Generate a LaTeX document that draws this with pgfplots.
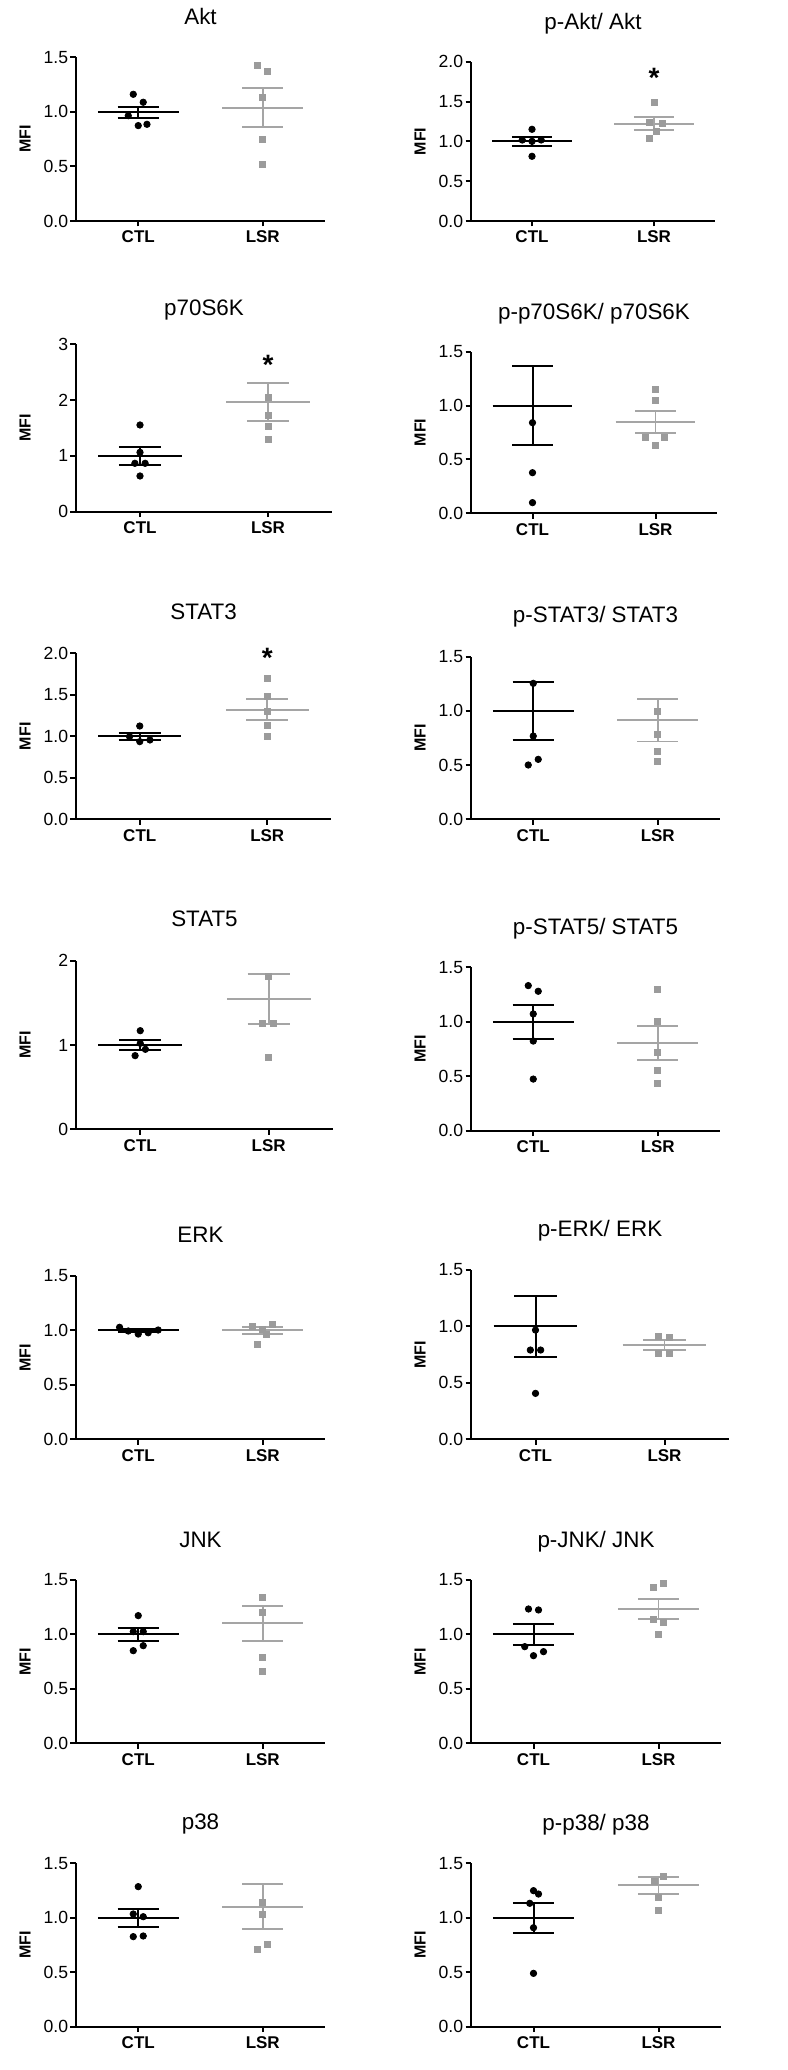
\documentclass[border=0pt]{standalone}
\usepackage{fontspec}
\setmainfont{Liberation Sans}
\usepackage{pgfplots}
\pgfplotsset{compat=1.18}
\definecolor{lsrline}{RGB}{165,165,165}
\definecolor{lsrpt}{RGB}{155,155,155}

\newcommand{\ctlsum}[3]{% mean, lo, hi
  \addplot[black, line width=1pt] coordinates {(-0.325,#1) (0.325,#1)};
  \addplot[black, line width=1pt] coordinates {(-0.165,#3) (0.165,#3)};
  \addplot[black, line width=1pt] coordinates {(-0.165,#2) (0.165,#2)};
  \addplot[black, line width=1pt] coordinates {(0,#2) (0,#3)};
}
\newcommand{\lsrsum}[3]{% mean, lo, hi
  \addplot[lsrline, line width=0.9pt] coordinates {(0.675,#1) (1.325,#1)};
  \addplot[lsrline, line width=0.9pt] coordinates {(0.835,#3) (1.165,#3)};
  \addplot[lsrline, line width=0.9pt] coordinates {(0.835,#2) (1.165,#2)};
  \addplot[lsrline, line width=0.9pt] coordinates {(1,#2) (1,#3)};
}
\newcommand{\sigstar}[1]{\node[font=\bfseries\fontsize{14}{14}\selectfont, anchor=base, yshift=-8pt, inner sep=0pt] at (axis cs:1,#1) {*};}

\pgfplotsset{
  mfi/.style={
    scale only axis,
    anchor=south west,
    axis x line*=bottom, axis y line*=left,
    xmin=-0.5, xmax=1.5, ymin=0,
    xtick={0,1}, xticklabels={CTL,LSR},
    axis line style={line width=1pt, black},
    every tick/.style={black, line width=1pt},
    major tick length=2.75pt,
    tick align=outside,
    minor tick num=0,
    xticklabel style={font=\bfseries\fontsize{8.5}{10}\selectfont, inner sep=2pt},
    yticklabel style={font=\fontsize{8.8}{10}\selectfont, inner sep=1pt},
    /pgf/number format/assume math mode=true,
    ylabel={MFI},
    ylabel style={font=\bfseries\fontsize{8}{9}\selectfont, at={([xshift=-25.5pt]axis description cs:0,0.5)}, anchor=center},
    title style={font=\fontsize{11.2}{13}\selectfont, anchor=base, at={(axis description cs:0.5,1)}},
    clip=false,
  },
  dec15/.style={ymax=1.5, ytick={0,0.5,1,1.5}, yticklabel style={/pgf/number format/.cd, fixed, fixed zerofill, precision=1}},
  dec20/.style={ymax=2.0, ytick={0,0.5,1,1.5,2}, yticklabel style={/pgf/number format/.cd, fixed, fixed zerofill, precision=1}},
  ctlpts/.style={only marks, mark=*, mark size=1.6pt, black},
  lsrpts/.style={only marks, mark=square*, mark size=1.5pt, lsrpt, mark options={draw=lsrpt, fill=lsrpt}},
}

\begin{document}
\begin{tikzpicture}
\path[use as bounding box] (0,0) rectangle (393.5pt,-1035pt);

% Akt
\begin{axis}[mfi, dec15, at={(38pt,-110.5pt)}, width=124.5pt, height=81.85pt,
  title={Akt}, title style={yshift=10.5pt}]
\ctlsum{0.996}{0.941}{1.048}
\lsrsum{1.039}{0.862}{1.216}
\addplot[ctlpts] coordinates {(-0.04,1.161) (0.04,1.088) (-0.08,0.965) (0,0.874) (0.07,0.886)};
\addplot[lsrpts] coordinates {(0.96,1.430) (1.04,1.375) (1,1.130) (1,0.749) (1,0.519)};
\end{axis}

% p-Akt/ Akt
\begin{axis}[mfi, dec20, at={(235.5pt,-110.5pt)}, width=122pt, height=79.65pt,
  title={p-Akt/ Akt}, title style={yshift=10.2pt}]
\ctlsum{1.0}{0.941}{1.054}
\lsrsum{1.222}{1.142}{1.301}
\addplot[ctlpts] coordinates {(0,1.151) (-0.08,1.017) (0,1.0) (0.075,1.017) (0,0.812)};
\addplot[lsrpts] coordinates {(1,1.485) (0.96,1.243) (1.07,1.222) (1.02,1.126) (0.96,1.033)};
\sigstar{1.874}
\end{axis}

% p70S6K
\begin{axis}[mfi, ymax=3, ytick={0,1,2,3}, at={(38pt,-255.85pt)}, width=128pt, height=83.7pt,
  title={p70S6K}, title style={yshift=8.2pt}]
\ctlsum{1.0}{0.843}{1.153}
\lsrsum{1.966}{1.63}{2.30}
\addplot[ctlpts] coordinates {(0,1.554) (0,1.064) (-0.04,0.867) (0.04,0.867) (0,0.640)};
\addplot[lsrpts] coordinates {(1,2.05) (1,1.733) (1,1.523) (1,1.297)};
\sigstar{2.75}
\end{axis}

% p-p70S6K/ p70S6K
\begin{axis}[mfi, dec15, at={(235.5pt,-256.65pt)}, width=123pt, height=80.8pt,
  title={p-p70S6K/ p70S6K}, title style={yshift=10.2pt}]
\ctlsum{1.0}{0.636}{1.366}
\lsrsum{0.848}{0.742}{0.953}
\addplot[ctlpts] coordinates {(0,0.841) (0,0.377) (0,0.099)};
\addplot[lsrpts] coordinates {(1,1.151) (1,1.045) (0.92,0.702) (1.07,0.702) (1,0.634)};
\end{axis}

% STAT3
\begin{axis}[mfi, dec20, at={(38pt,-409.65pt)}, width=127.5pt, height=83pt,
  title={STAT3}, title style={yshift=11pt}]
\ctlsum{1.0}{0.956}{1.044}
\lsrsum{1.317}{1.193}{1.446}
\addplot[ctlpts] coordinates {(0,1.124) (-0.08,0.996) (0,0.936) (0.08,0.956)};
\addplot[lsrpts] coordinates {(1,1.699) (1,1.478) (1,1.297) (1,1.137) (1,0.996)};
\sigstar{2.02}
\end{axis}

% p-STAT3/ STAT3
\begin{axis}[mfi, dec15, at={(235.5pt,-409.65pt)}, width=124.5pt, height=81.3pt,
  title={p-STAT3/ STAT3}, title style={yshift=11pt}]
\ctlsum{1.0}{0.735}{1.267}
\lsrsum{0.916}{0.717}{1.113}
\addplot[ctlpts] coordinates {(0,1.254) (0,0.768) (-0.04,0.501) (0.04,0.553)};
\addplot[lsrpts] coordinates {(1,0.993) (1,0.787) (1,0.630) (1,0.532)};
\end{axis}

% STAT5
\begin{axis}[mfi, ymax=2, ytick={0,1,2}, at={(38pt,-564.65pt)}, width=128.5pt, height=84.3pt,
  title={STAT5}, title style={yshift=11.3pt}]
\ctlsum{1.0}{0.937}{1.059}
\lsrsum{1.545}{1.253}{1.842}
\addplot[ctlpts] coordinates {(0,1.170) (0,1.020) (0.04,0.949) (-0.04,0.874)};
\addplot[lsrpts] coordinates {(1,1.818) (0.95,1.257) (1.04,1.257) (1,0.854)};
\end{axis}

% p-STAT5/ STAT5
\begin{axis}[mfi, dec15, at={(235.5pt,-565.35pt)}, width=124.5pt, height=81.7pt,
  title={p-STAT5/ STAT5}, title style={yshift=10.5pt}]
\ctlsum{1.0}{0.839}{1.154}
\lsrsum{0.802}{0.646}{0.961}
\addplot[ctlpts] coordinates {(-0.04,1.332) (0.04,1.280) (0,1.072) (0,0.823) (0,0.474)};
\addplot[lsrpts] coordinates {(1,1.298) (1,1.001) (1,0.719) (1,0.557) (1,0.435)};
\end{axis}

% ERK
\begin{axis}[mfi, dec15, at={(38pt,-719.65pt)}, width=124.5pt, height=81.65pt,
  title={ERK}, title style={yshift=11pt}]
\ctlsum{1.0}{0.99}{1.01}
\lsrsum{1.001}{0.964}{1.035}
\addplot[ctlpts] coordinates {(-0.15,1.029) (-0.08,0.995) (0,0.967) (0.08,0.979) (0.16,1.004)};
\addplot[lsrpts] coordinates {(0.92,1.041) (1.08,1.059) (1,1.010) (1.03,0.964) (0.96,0.875)};
\end{axis}

% p-ERK/ ERK
\begin{axis}[mfi, dec15, at={(235.5pt,-719.65pt)}, width=129pt, height=84.65pt,
  title={p-ERK/ ERK}, title style={yshift=11pt}]
\ctlsum{1.0}{0.726}{1.270}
\lsrsum{0.836}{0.791}{0.880}
\addplot[ctlpts] coordinates {(0,0.968) (-0.04,0.791) (0.04,0.791) (0,0.407)};
\addplot[lsrpts] coordinates {(0.95,0.915) (1.04,0.906) (0.95,0.762) (1.04,0.762)};
\end{axis}

% JNK
\begin{axis}[mfi, dec15, at={(38pt,-871.65pt)}, width=124.5pt, height=81.65pt,
  title={JNK}, title style={yshift=10.2pt}]
\ctlsum{1.0}{0.940}{1.056}
\lsrsum{1.102}{0.940}{1.261}
\addplot[ctlpts] coordinates {(0,1.173) (-0.04,1.026) (0.04,1.026) (0.04,0.897) (-0.04,0.851)};
\addplot[lsrpts] coordinates {(1,1.338) (1,1.200) (1,0.787) (1,0.664)};
\end{axis}

% p-JNK/ JNK
\begin{axis}[mfi, dec15, at={(235.5pt,-871.65pt)}, width=125pt, height=81.65pt,
  title={p-JNK/ JNK}, title style={yshift=10.2pt}]
\ctlsum{1.0}{0.903}{1.093}
\lsrsum{1.234}{1.139}{1.325}
\addplot[ctlpts] coordinates {(-0.04,1.234) (0.04,1.225) (-0.07,0.888) (0,0.805) (0.08,0.842)};
\addplot[lsrpts] coordinates {(0.96,1.433) (1.04,1.469) (0.96,1.142) (1.04,1.108) (1,1.004)};
\end{axis}

% p38
\begin{axis}[mfi, dec15, at={(38pt,-1013.35pt)}, width=124.5pt, height=81.7pt,
  title={p38}, title style={yshift=11pt}]
\ctlsum{1.0}{0.915}{1.084}
\lsrsum{1.102}{0.897}{1.307}
\addplot[ctlpts] coordinates {(0,1.286) (-0.04,1.035) (0.04,1.010) (-0.04,0.827) (0.04,0.833)};
\addplot[lsrpts] coordinates {(1,1.139) (1,1.035) (1.04,0.759) (0.96,0.710)};
\end{axis}

% p-p38/ p38
\begin{axis}[mfi, dec15, at={(235.5pt,-1013.35pt)}, width=125pt, height=81.7pt,
  title={p-p38/ p38}, title style={yshift=10.2pt}]
\ctlsum{1.0}{0.857}{1.136}
\lsrsum{1.298}{1.221}{1.377}
\addplot[ctlpts] coordinates {(0,1.249) (0.04,1.218) (-0.03,1.133) (0,0.909) (0,0.490)};
\addplot[lsrpts] coordinates {(1.04,1.377) (0.97,1.332) (1,1.188) (1,1.071)};
\end{axis}

\end{tikzpicture}
\end{document}
